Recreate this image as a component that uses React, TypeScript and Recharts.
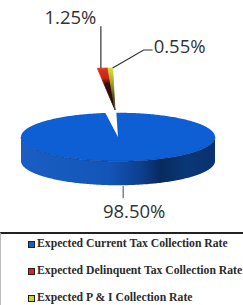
import React from 'react';
import { PieChart, Pie, Cell, Legend } from 'recharts';

const categories = [
  'Expected Current Tax Collection Rate',
  'Expected Delinquent Tax Collection Rate',
  'Expected P & I Collection Rate',
];
const values = [98.5, 1.25, 0.55];
const valueLabels = ['98.50%', '1.25%', '0.55%'];
const COLORS = ['#0d5fd3', '#d8281c', '#c9d42a'];

const data = categories.map((name, i) => ({ name, value: values[i], label: valueLabels[i] }));

const K = 0.25; // vertical squash of the top face
const DEPTH = 24; // thickness of the disc
const SMALL_KX = 1.4; // horizontal stretch of the exploded wedges
const SMALL_K = 0.433; // vertical squash of the exploded wedges
const EXPLODE: [number, number] = [-3, -27];

const rad = (d: number) => (d * Math.PI) / 180;
const ellPt = (cx: number, cy: number, r: number, a: number, ky: number, dx = 0, dy = 0, kx = 1): [number, number] => [
  cx + r * kx * Math.cos(rad(a)) + dx,
  cy - r * ky * Math.sin(rad(a)) + dy,
];
const arcPts = (cx: number, cy: number, r: number, a0: number, a1: number, ky: number, dx = 0, dy = 0, kx = 1) => {
  const n = Math.max(2, Math.ceil(Math.abs(a1 - a0)));
  const pts: [number, number][] = [];
  for (let i = 0; i <= n; i++) pts.push(ellPt(cx, cy, r, a0 + ((a1 - a0) * i) / n, ky, dx, dy, kx));
  return pts;
};
const toPath = (pts: [number, number][]) => pts.map((p, i) => `${i ? 'L' : 'M'}${p[0].toFixed(2)},${p[1].toFixed(2)}`).join(' ');

const idxOf = (p: any) => categories.indexOf(p.name ?? p.payload?.name);

const Sector3D = (props: any) => {
  const { cx, cy, outerRadius: r, startAngle, endAngle } = props;
  const idx = idxOf(props);
  const lo = Math.min(startAngle, endAngle);
  const hi = Math.max(startAngle, endAngle);
  if (idx === 0) {
    const runs: [number, number][] = [];
    let cur: number | null = null;
    for (let a = lo; a <= hi + 0.001; a += 0.5) {
      const vis = Math.sin(rad(a)) <= 0;
      if (vis && cur === null) cur = a;
      if ((!vis || a + 0.5 > hi) && cur !== null) {
        runs.push([cur, Math.min(a, hi)]);
        cur = null;
      }
    }
    const top = [[cx, cy] as [number, number], ...arcPts(cx, cy, r, lo, hi, K)];
    return (
      <g>
        <defs>
          <linearGradient id="blueSide" gradientUnits="userSpaceOnUse" x1={cx - r} y1={0} x2={cx + r} y2={0}>
            <stop offset="0" stopColor="#1a5ec4" />
            <stop offset="0.45" stopColor="#1356b8" />
            <stop offset="0.62" stopColor="#0c3f8e" />
            <stop offset="0.72" stopColor="#082a5e" />
            <stop offset="0.85" stopColor="#0a3778" />
            <stop offset="1" stopColor="#0a3170" />
          </linearGradient>
        </defs>
        {runs.map(([s, e], i) => {
          const t = arcPts(cx, cy, r, s, e, K);
          const b = arcPts(cx, cy, r, e, s, K, 0, DEPTH);
          return <path key={i} d={toPath([...t, ...b]) + ' Z'} fill="url(#blueSide)" />;
        })}
        <path d={toPath(top) + ' Z'} fill={props.fill} />
        {runs.map(([s, e], i) => (
          <path key={'e' + i} d={toPath(arcPts(cx, cy, r, s, e, K))} fill="none" stroke="#0a3c8c" strokeWidth={1} opacity={0.6} />
        ))}
      </g>
    );
  }
  const [dx, dy] = EXPLODE;
  const pts = [[cx + dx, cy + dy] as [number, number], ...arcPts(cx, cy, r, lo, hi, SMALL_K, dx, dy, SMALL_KX)];
  const gid = 'wedge' + idx;
  const stops =
    idx === 1
      ? [['0', '#e3321f'], ['0.25', '#c02416'], ['0.38', '#3c0c08'], ['1', '#250605']]
      : [['0', '#d6df3c'], ['0.35', '#a2a826'], ['0.7', '#4c4c16'], ['1', '#55553a']];
  return (
    <g>
      <defs>
        <linearGradient id={gid} x1="0" y1="0" x2="0" y2="1">
          {stops.map(([o, c]) => (
            <stop key={o} offset={o} stopColor={c} />
          ))}
        </linearGradient>
      </defs>
      <path d={toPath(pts) + ' Z'} fill={`url(#${gid})`} stroke={`url(#${gid})`} strokeWidth={0.8} />
    </g>
  );
};

const labelFont = { fontFamily: '"Open Sans", sans-serif', fontSize: 18.5, fill: '#333' };

const renderLabel = (p: any) => {
  const idx = idxOf(p);
  const { cx, cy, outerRadius: r, startAngle, endAngle } = p;
  const lo = Math.min(startAngle, endAngle);
  const hi = Math.max(startAngle, endAngle);
  const txt = valueLabels[idx];
  if (idx === 0) {
    const [x, y0] = ellPt(cx, cy, r, (lo + hi) / 2, K);
    const y = y0 + DEPTH;
    return (
      <g>
        <line x1={x - 2} y1={y + 1} x2={x - 2} y2={y + 13} stroke="#444" strokeWidth={1} />
        <text x={x + 9} y={y + 33} textAnchor="middle" {...labelFont}>{txt}</text>
      </g>
    );
  }
  const [dx, dy] = EXPLODE;
  if (idx === 1) {
    const [x, y] = ellPt(cx, cy, r, hi, SMALL_K, dx, dy, SMALL_KX);
    return (
      <g>
        <line x1={x + 3.5} y1={y} x2={x + 3.5} y2={y - 42} stroke="#333" strokeWidth={1.2} />
        <text x={x - 1} y={y - 44} textAnchor="end" {...labelFont}>{txt}</text>
      </g>
    );
  }
  const [x, y] = ellPt(cx, cy, r, lo, SMALL_K, dx, dy, SMALL_KX);
  return (
    <g>
      <polyline points={`${x},${y} ${x + 31},${y - 18} ${x + 40},${y - 18}`} fill="none" stroke="#333" strokeWidth={1.2} />
      <text x={x + 41} y={y - 15} textAnchor="start" {...labelFont}>{txt}</text>
    </g>
  );
};

const rowCenters = [12, 39, 66];

const renderLegend = () => (
  <div
    style={{
      width: 243,
      height: 73,
      boxSizing: 'border-box',
      borderTop: '2px solid #222',
      borderLeft: '1px solid #bbb',
      position: 'relative',
      fontFamily: '"Liberation Serif", serif',
      fontWeight: 700,
      fontSize: 11.7,
      color: '#2b2b2b',
      overflow: 'hidden',
    }}
  >
    {categories.map((c, i) => (
      <div
        key={c}
        style={{
          position: 'absolute',
          left: 27,
          top: rowCenters[i] - 7 - 2,
          height: 14,
          lineHeight: '14px',
          whiteSpace: 'nowrap',
          display: 'flex',
          alignItems: 'center',
        }}
      >
        <span
          style={{
            display: 'inline-block',
            width: 5,
            height: 5,
            border: '1px solid #222',
            background: COLORS[i],
            marginRight: 2,
          }}
        />
        <span>{c}</span>
      </div>
    ))}
  </div>
);

export default function App() {
  return (
    <div style={{ position: 'absolute', left: 0, top: 0, width: 243, height: 305, background: '#fff' }}>
      <PieChart width={243} height={305} margin={{ top: 0, right: 0, bottom: 0, left: 0 }}>
        <Pie
          data={data}
          dataKey="value"
          nameKey="name"
          cx={118}
          cy={137}
          innerRadius={0}
          outerRadius={97}
          startAngle={451}
          endAngle={91}
          stroke="none"
          isAnimationActive={false}
          labelLine={false}
          label={renderLabel}
          shape={Sector3D}
          activeShape={Sector3D}
          inactiveShape={Sector3D}
        >
          {data.map((d, i) => (
            <Cell key={d.name} fill={COLORS[i]} />
          ))}
        </Pie>
        <Legend
          verticalAlign="bottom"
          content={renderLegend}
          wrapperStyle={{ position: 'absolute', left: 0, top: 232, width: 243, height: 73, bottom: 'auto' }}
        />
      </PieChart>
    </div>
  );
}
